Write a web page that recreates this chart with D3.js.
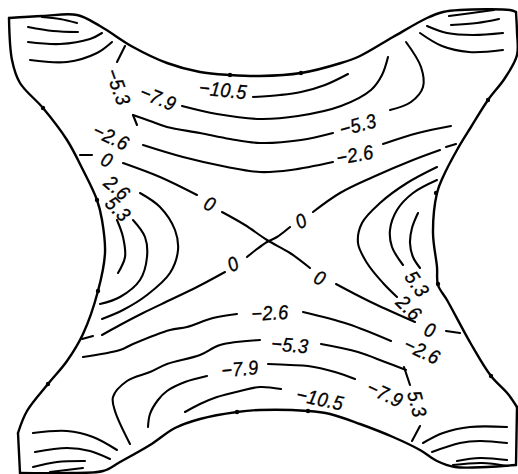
<!DOCTYPE html>
<html>
<head>
<meta charset="utf-8">
<script src="https://cdnjs.cloudflare.com/ajax/libs/d3/7.8.5/d3.min.js"></script>
<style>
  html, body { margin: 0; padding: 0; background: #fff; }
</style>
</head>
<body>
<div id="wrapper"></div>
<script>
// digitised plate outline and isolines, x to the right, y downwards (figure units)

// outline of the plate, one array per side
const edgeTop = [[9,18],[43,16],[77,15],[100,26],[133,47],[167,63],[200,72],[230,75],[260,76],[301,73],[341,63],[360,56],[393,37],[427,18],[443,12],[460,10],[510,10],[516,12]]
const edgeRight = [[516,12],[517,32],[517,55],[505,78],[488,100],[471,127],[457,150],[443,177],[437,193],[433,233],[437,267],[438,285],[447,300],[471,344],[491,376],[508,394],[517,407]]
const edgeRightEnd = [[517,407],[516,465]]
const edgeBottom = [[516,465],[487,467],[455,467],[437,461],[420,450],[393,437],[360,424],[330,414],[308,411],[260,410],[237,412],[200,419],[175,428],[150,445],[120,462],[103,471],[67,473],[20,473]]
const edgeLeftEnd = [[20,473],[18,433]]
const edgeLeft = [[18,433],[27,411],[48,384],[67,361],[83,334],[98,291],[105,253],[102,220],[97,200],[83,170],[67,140],[43,108],[20,83],[12,60],[9,18]]

// small marks on the outline
const edgeDots = [[43,108],[97,200],[98,291],[48,384],[230,75],[301,73],[488,100],[436,193],[438,284],[491,376],[308,411],[237,412]]

// unlabelled lines in the four corner lobes
const lobeLines = [
  [[42,17],[60,19],[77,23]],
  [[28,27],[53,31],[78,32]],
  [[28,42],[60,44],[90,39],[102,33]],
  [[30,60],[67,62],[97,53],[112,42]],
  [[449,16],[472,13],[494,10]],
  [[451,25],[477,23],[499,19]],
  [[427,26],[447,33],[473,35],[503,33]],
  [[420,33],[442,46],[469,52],[503,50]],
  [[423,443],[443,433],[470,427],[507,427]],
  [[432,452],[460,443],[480,441],[507,443]],
  [[457,461],[480,458],[507,460]],
  [[453,465],[482,463],[507,466]],
  [[33,433],[67,431],[93,437],[117,450]],
  [[35,452],[67,448],[90,451],[110,459]],
  [[33,467],[57,462],[85,461]],
  [[50,472],[83,468]]
]

// isolines, one array per level, each a list of drawn pieces
const levelMinus105 = [
  [[253,97],[280,95],[301,92],[325,85],[348,74]],
  [[185,412],[200,404],[217,397],[240,391],[260,387],[281,389]]
]
const levelMinus79 = [
  [[182,106],[217,114],[260,119],[298,116],[341,106],[371,90],[382,75],[388,57]],
  [[148,427],[150,414],[158,400],[167,391],[185,382],[207,376]],
  [[268,364],[290,365],[308,366],[335,372],[355,379]]
]
const levelMinus53 = [
  [[125,46],[117,62]],
  [[137,125],[133,115]],
  [[133,115],[150,121],[167,127],[200,133],[230,139],[260,143],[301,140],[333,133]],
  [[390,110],[411,102],[423,87],[421,67],[406,42]],
  [[130,444],[115,411],[113,397],[127,381],[150,372],[167,364],[200,355],[220,345],[260,340]],
  [[321,344],[358,352],[385,362],[406,370]],
  [[404,367],[410,385]],
  [[420,426],[412,441]]
]
const levelMinus26 = [
  [[143,145],[183,157],[227,167],[260,172],[291,170],[333,162]],
  [[383,144],[418,133],[451,126]],
  [[83,357],[120,350],[133,344],[170,330],[187,327],[213,318],[237,314]],
  [[303,312],[348,324],[391,341]]
]
const levelZero = [
  [[80,155],[92,155]],
  [[123,163],[160,177],[197,195]],
  [[222,212],[245,225],[267,240],[290,253],[310,268]],
  [[336,284],[353,293],[375,304],[415,322]],
  [[446,331],[460,333]],
  [[82,339],[93,336]],
  [[102,335],[120,325],[143,313],[170,300],[197,287],[225,272]],
  [[247,257],[257,249],[267,242],[277,237],[290,227]],
  [[313,212],[340,193],[373,177],[413,160],[440,150]],
  [[446,147],[456,144]]
]
const levelPlus26 = [
  [[140,193],[160,207],[175,230],[178,250],[170,273],[147,295],[123,310],[102,319]],
  [[437,167],[407,183],[380,203],[362,223],[358,243],[367,263],[383,283],[397,297]]
]
const levelPlus53 = [
  [[133,220],[145,237],[147,257],[140,280],[120,297],[100,304]],
  [[437,180],[413,193],[397,210],[390,230],[392,247],[403,265]]
]
const levelInner = [
  [[117,220],[123,237],[125,257],[118,273]],
  [[418,213],[412,228],[410,243],[413,257],[420,268]]
]

// level labels: text, x, y, direction of the line (deg)
const labels = [
  ["\u221210.5", 223, 90, 6],
  ["\u22127.9", 158, 98, 22],
  ["\u22125.3", 118, 87, 70],
  ["\u22122.6", 111, 137, 25],
  ["0", 107, 160, 25],
  ["2.6", 117, 188, 40],
  ["5.3", 118, 209, 45],
  ["0", 210, 204, 25],
  ["0", 301, 221, -25],
  ["\u22125.3", 358, 125, -15],
  ["\u22122.6", 355, 155, -10],
  ["0", 233, 264, -25],
  ["0", 320, 278, 25],
  ["\u22122.6", 270, 313, -3],
  ["\u22125.3", 290, 345, 5],
  ["\u22127.9", 240, 369, -5],
  ["\u221210.5", 320, 399, 12],
  ["\u22127.9", 385, 394, 25],
  ["5.3", 417, 404, 75],
  ["\u22122.6", 422, 351, 25],
  ["0", 430, 330, 20],
  ["2.6", 409, 308, 45],
  ["5.3", 417, 284, 55]
]

function drawPlate() {
  let dimensions = {
    width: 518,
    height: 474,
    margin: { top: 0, right: 0, bottom: 0, left: 0 },
  }
  dimensions.boundedWidth = dimensions.width - dimensions.margin.left - dimensions.margin.right
  dimensions.boundedHeight = dimensions.height - dimensions.margin.top - dimensions.margin.bottom

  const wrapper = d3.select("#wrapper")
    .append("svg")
      .attr("width", dimensions.width)
      .attr("height", dimensions.height)
      .style("display", "block")

  const bounds = wrapper.append("g")
    .attr("transform", `translate(${dimensions.margin.left},${dimensions.margin.top})`)

  const xScale = d3.scaleLinear()
    .domain([0, 518])
    .range([0, dimensions.boundedWidth])
  const yScale = d3.scaleLinear()
    .domain([0, 474])
    .range([0, dimensions.boundedHeight])

  const lineGenerator = d3.line()
    .x(d => xScale(d[0]))
    .y(d => yScale(d[1]))
    .curve(d3.curveCatmullRom.alpha(0.5))

  // outline
  bounds.append("g")
    .selectAll("path")
    .data([edgeTop, edgeRight, edgeRightEnd, edgeBottom, edgeLeftEnd, edgeLeft])
    .join("path")
      .attr("d", lineGenerator)
      .attr("fill", "none")
      .attr("stroke", "#000")
      .attr("stroke-width", 2.4)
      .attr("stroke-linecap", "round")
      .attr("stroke-linejoin", "round")

  bounds.append("g")
    .selectAll("circle")
    .data(edgeDots)
    .join("circle")
      .attr("cx", d => xScale(d[0]))
      .attr("cy", d => yScale(d[1]))
      .attr("r", 2.2)
      .attr("fill", "#000")

  // isolines
  const pieces = [].concat(lobeLines, levelMinus105, levelMinus79, levelMinus53,
    levelMinus26, levelZero, levelPlus26, levelPlus53, levelInner)

  bounds.append("g")
    .selectAll("path")
    .data(pieces)
    .join("path")
      .attr("d", lineGenerator)
      .attr("fill", "none")
      .attr("stroke", "#000")
      .attr("stroke-width", 2.1)
      .attr("stroke-linecap", "round")

  // labels
  bounds.append("g")
    .selectAll("text")
    .data(labels)
    .join("text")
      .attr("transform", d => `translate(${xScale(d[1])},${yScale(d[2])}) rotate(${d[3]}) scale(0.9,1)`)
      .attr("text-anchor", "middle")
      .attr("dominant-baseline", "central")
      .attr("font-family", "Liberation Sans, Arial, sans-serif")
      .attr("font-style", "italic")
      .attr("font-size", 20)
      .attr("fill", "#000")
      .attr("stroke", "#000")
      .attr("stroke-width", 0.35)
      .attr("letter-spacing", 0.5)
      .text(d => d[0])
}

drawPlate()
</script>
</body>
</html>
